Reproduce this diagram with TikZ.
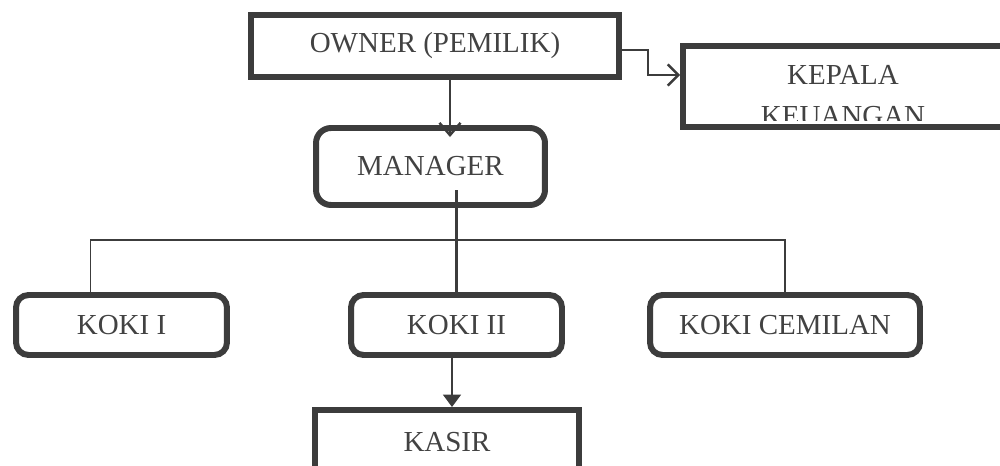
\documentclass[tikz,border=0pt]{standalone}
\usepackage{fontspec}
\setmainfont{Liberation Serif}
\usetikzlibrary{arrows.meta}
\definecolor{boxgray}{HTML}{3C3C3C}
\definecolor{txtgray}{HTML}{424242}

\begin{document}
\begin{tikzpicture}[x=0.02cm,y=-0.02cm,
  box/.style={draw=boxgray,line width=3.4pt,fill=white,text=txtgray,
    font=\fontsize{16.5}{20}\selectfont,inner sep=0pt},
  rbox/.style={box,rounded corners=0.25cm},
  lbl/.style={text=txtgray,font=\fontsize{16.5}{20}\selectfont,inner sep=0pt},
  conn/.style={draw=boxgray,line width=1.4pt},
  bus/.style={draw=boxgray,line width=0.9pt}]

\useasboundingbox (0,0) rectangle (1000,466);
\clip (0,0) rectangle (1000,466);

\node[box,minimum width=7.36cm,minimum height=1.24cm] (owner) at (435,46) {OWNER (PEMILIK)};
\node[box,minimum width=6.4cm,minimum height=1.62cm] (kepala) at (843,86.5) {};
\begin{scope}
\clip (686,50) rectangle (1000,120);
\node[lbl,anchor=base] (kepalaA) at (843,85) {KEPALA};
\node[lbl,anchor=base] (kepalaB) at (843,125) {KEUANGAN};
\end{scope}
\node[rbox,rounded corners=0.3cm,minimum width=4.58cm,minimum height=1.54cm] (manager) at (430.5,166.5) {MANAGER};
\node[rbox,minimum width=4.22cm,minimum height=1.2cm] (koki1) at (121.5,325) {KOKI I};
\node[rbox,minimum width=4.22cm,minimum height=1.2cm] (koki2) at (456.5,325) {KOKI II};
\node[rbox,minimum width=5.4cm,minimum height=1.2cm] (koki3) at (785,325) {KOKI CEMILAN};
\node[box,minimum width=5.28cm,minimum height=1.28cm] (kasir) at (447,442) {KASIR};

\coordinate (mgrout) at (456.5,190);
\coordinate (hub) at (456.5,240);

\draw[conn,-{Straight Barb[length=7pt,width=12pt]}] ([xshift=0.3cm]owner.south) -- ([xshift=0.3cm,yshift=-0.24cm]owner.south |- manager.north);
\draw[conn,-{Straight Barb[length=6pt,width=12pt]}] ([yshift=-0.08cm]owner.east) -- ++(26,0) |- ([yshift=0.23cm]kepala.west);
\draw[conn] (mgrout) -- (koki2.north);
\draw[bus] ([xshift=-0.62cm]koki1.north) |- (hub) -| (koki3.north);
\draw[conn,-{Triangle[length=7pt,width=10pt]}] ([xshift=-0.09cm]koki2.south) -- ([xshift=-0.09cm]koki2.south |- kasir.north);

\end{tikzpicture}
\end{document}
